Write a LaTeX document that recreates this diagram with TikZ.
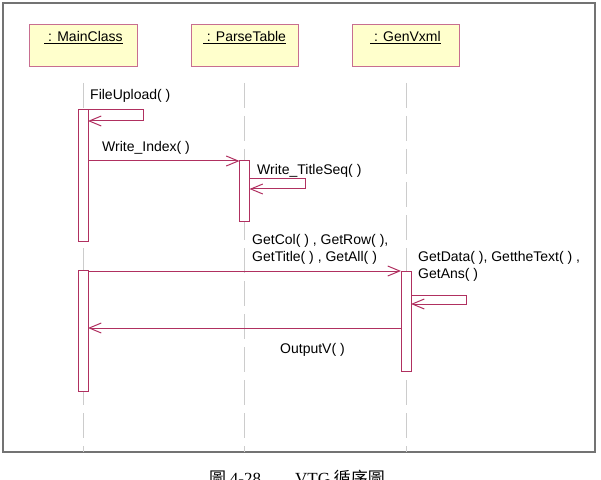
\documentclass[tikz,border=0pt]{standalone}
\usepackage{fontspec}
\setmainfont{Liberation Sans}
\newfontfamily\capserif{Liberation Serif}
\newfontfamily\cjk{Noto Sans CJK TC}
\usepackage{xcolor}
\definecolor{Col1}{RGB}{176,48,96}
\definecolor{Col2}{RGB}{255,255,204}
\usepackage{tikz}
\usetikzlibrary{arrows.meta}
\tikzstyle{Object}=[rectangle,draw=Col1!70,fill=Col2,line width=1bp,
minimum width=107bp,minimum height=42bp,inner ysep=5bp,
text height=12bp,text depth=20bp,font=\fontsize{14bp}{17bp}\selectfont]
\tikzstyle{Act}=[rectangle,draw=Col1,fill=white,line width=1bp,
minimum width=10bp,inner sep=0pt]
\tikzstyle{Life}=[draw=black!20,line width=.8bp,dash pattern=on 25bp off 8bp]
\tikzstyle{Msg}=[draw=Col1,line width=1bp,
-{Straight Barb[length=12bp,width=10bp]}]
\tikzstyle{Label}=[inner sep=0pt,align=left,
font=\fontsize{14bp}{17bp}\selectfont]
\tikzstyle{Frame}=[draw=black!55,line width=1.2bp]

\begin{document}
\begin{tikzpicture}[x=1bp,y=-1bp]
        \useasboundingbox(0,0)rectangle(601,480);
        \draw[Frame](3,3)rectangle(595,452);
        % objects and lifelines
        \node[Object](m)at(83.5,46){\underline{\ : MainClass}};
        \node[Object](p)at(244.5,46){\underline{\ : ParseTable}};
        \node[Object](g)at(405.5,46){\underline{\ : GenVxml}};
        \coordinate(m0)at(83,83);
        \coordinate(m1)at(83,452);
        \coordinate(p0)at(244.5,83);
        \coordinate(p1)at(244.5,452);
        \coordinate(g0)at(406,83);
        \coordinate(g1)at(406,452);
        \draw[Life](m0)--(m1);
        \draw[Life](p0)--(p1);
        \draw[Life](g0)--(g1);
        % activations
        \node[Act,minimum height=131bp](a1)at(83,175.5){};
        \node[Act,minimum height=121bp](a2)at(83,330.5){};
        \node[Act,minimum height=60bp](a3)at(244.5,191){};
        \node[Act,minimum height=100bp](a4)at(406,321){};
        % messages
        \coordinate(f1)at(88,110);
        \coordinate(fx)at(143,121);
        \coordinate(f2)at(88,121);
        \draw[Msg](f1)-|(fx)--(f2);
        \node[Label,anchor=base west](fl)at(90,100){FileUpload( )};
        \coordinate(w1)at(88,161);
        \coordinate(w2)at(239.5,161);
        \draw[Msg](w1)--(w2);
        \node[Label,anchor=base west](wl)at(102,152){Write\_Index( )};
        \coordinate(t1)at(249.5,179);
        \coordinate(tx)at(305,189);
        \coordinate(t2)at(249.5,189);
        \draw[Msg](t1)-|(tx)--(t2);
        \node[Label,anchor=base west](tl)at(257,175){Write\_TitleSeq( )};
        \coordinate(c1)at(88,271);
        \coordinate(c2)at(401,271);
        \draw[Msg](c1)--(c2);
        \node[Label,anchor=north west](cl)at(252,234.5)
            {GetCol( ) , GetRow( ),\\GetTitle( ) , GetAll( )};
        \coordinate(d1)at(411,295);
        \coordinate(dx)at(466,304);
        \coordinate(d2)at(411,304);
        \draw[Msg](d1)-|(dx)--(d2);
        \node[Label,anchor=north west](dl)at(418,251.5)
            {GetData( ), GettheText( ) ,\\GetAns( )};
        \coordinate(o1)at(401,328);
        \coordinate(o2)at(88,328);
        \draw[Msg](o1)--(o2);
        \node[Label,anchor=base west](ol)at(280,353){OutputV( )};
        % caption
        \node[inner sep=0pt,anchor=base,font=\fontsize{17bp}{20bp}\selectfont]
            (cap)at(297,484){\cjk 圖 {\capserif 4-28}　　{\capserif VTG} 循序圖};
    \end{tikzpicture}
\end{document}
